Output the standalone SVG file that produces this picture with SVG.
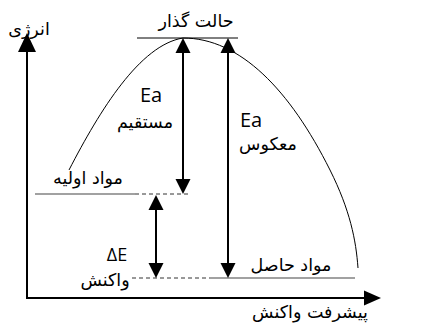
<svg xmlns="http://www.w3.org/2000/svg" width="433" height="332" viewBox="0 0 433 332">
<style>
.fa{font-family:"DejaVu Sans","Noto Sans",sans-serif;font-size:17.5px;fill:#000;text-anchor:middle}
.la{font-family:"Open Sans","DejaVu Sans",sans-serif;fill:#000;text-anchor:middle}
.arr{stroke:#000;stroke-width:2;fill:none}
.thin{stroke:#000;stroke-width:1;fill:none}
.dash{stroke:#333;stroke-width:1;stroke-dasharray:4,3;fill:none}
.lvl{stroke:#444;stroke-width:1.2;fill:none}
.head{fill:#000}
</style>
<rect width="433" height="332" fill="#fff"/>
<g id="connectors">
  <!-- axes -->
  <path class="arr" d="M27 298 V50 M26 298 H366"/>
  <polygon class="head" points="27,33 18,52 36,52"/>
  <polygon class="head" points="381,298 364,290.5 364,305.5"/>
  <!-- energy curve -->
  <path class="thin" d="M69 170 C100 110 140 45 183 38 C240 38 290 90 330 170 C350 210 356 240 358 268"/>
  <!-- transition state level -->
  <path class="thin" d="M137 38 H238"/>
  <!-- reactants level -->
  <path class="lvl" d="M35 194 H135"/>
  <path class="dash" d="M135 194 H188"/>
  <!-- products level -->
  <path class="dash" d="M132 278 H210"/>
  <path class="lvl" d="M210 278 H355"/>
  <!-- Ea forward -->
  <path class="arr" d="M183 52 V181"/>
  <polygon class="head" points="183,38 175.5,53 190.5,53"/>
  <polygon class="head" points="183,194 175.5,179 190.5,179"/>
  <!-- Ea reverse -->
  <path class="arr" d="M228 52 V265"/>
  <polygon class="head" points="228,38 220.5,53 235.5,53"/>
  <polygon class="head" points="228,278 220.5,263 235.5,263"/>
  <!-- Delta E -->
  <path class="arr" d="M156 208 V265"/>
  <polygon class="head" points="156,195 148.5,210 163.5,210"/>
  <polygon class="head" points="156,278 148.5,263 163.5,263"/>
</g>
<g id="label-energy"><text class="fa" x="29" y="35">انرژی</text></g>
<g id="label-ts"><text class="fa" x="196" y="27" font-size="18.5">حالت گذار</text></g>
<g id="label-ea-forward">
  <text class="la" x="151" y="102" font-size="20">Ea</text>
  <text class="fa" x="145" y="128">مستقیم</text>
</g>
<g id="label-ea-reverse">
  <text class="la" x="251" y="127" font-size="20">Ea</text>
  <text class="fa" x="268" y="150">معکوس</text>
</g>
<g id="label-reactants"><text class="fa" x="88" y="184">مواد اولیه</text></g>
<g id="label-deltae">
  <text class="la" x="117" y="261" font-size="18">ΔE</text>
  <text class="fa" x="105" y="286">واکنش</text>
</g>
<g id="label-products"><text class="fa" x="291" y="271">مواد حاصل</text></g>
<g id="label-progress"><text class="fa" x="310" y="318" font-size="20">پیشرفت واکنش</text></g>
</svg>
